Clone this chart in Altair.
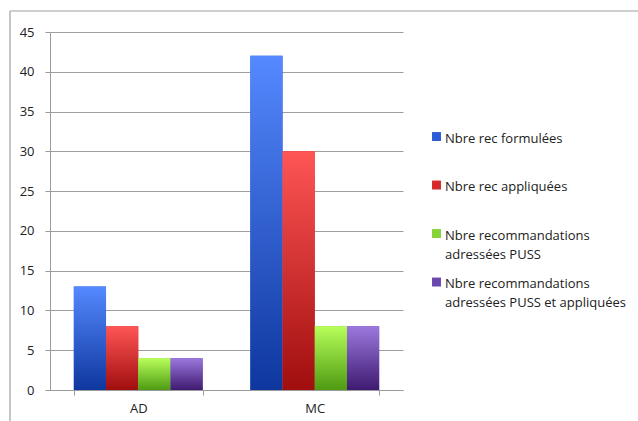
import altair as alt
import pandas as pd

groups = ["AD", "MC"]
series = [
    "Nbre rec formulées|",
    "Nbre rec appliquées|",
    "Nbre recommandations|adressées PUSS",
    "Nbre recommandations|adressées PUSS et appliquées",
]
values_ad = [13, 8, 4, 4]
values_mc = [42, 30, 8, 8]
y_ticks = [0, 5, 10, 15, 20, 25, 30, 35, 40, 45]

solid = ["#2E5BD6", "#D62A2A", "#86D43A", "#6A47AE"]
grads = [
    ("#5589FF", "#0E379E"),
    ("#FF5555", "#A00E0E"),
    ("#B8FF5A", "#4E9A12"),
    ("#9C78DE", "#3E1A70"),
]

rows = []
for i, s in enumerate(series):
    rows.append({"groupe": "AD", "serie": s, "order": i, "valeur": values_ad[i]})
    rows.append({"groupe": "MC", "serie": s, "order": i, "valeur": values_mc[i]})
df = pd.DataFrame(rows)

FONT = "Open Sans"

x_enc = alt.X(
    "groupe:N",
    sort=groups,
    title=None,
    scale=alt.Scale(paddingInner=0.27, paddingOuter=0.135),
    axis=alt.Axis(
        labelAngle=0, tickBand="extent", domainColor="#9a9a9a", tickColor="#9a9a9a",
        tickSize=5, labelPadding=7, labelFontSize=13, labelColor="#222222", labelFont=FONT,
        grid=False,
    ),
)
xoff = alt.XOffset("serie:N", sort=series, scale=alt.Scale(paddingInner=0, paddingOuter=0))
y_enc = alt.Y(
    "valeur:Q",
    title=None,
    scale=alt.Scale(domain=[0, 45], nice=False),
    axis=alt.Axis(
        values=y_ticks, grid=True, gridColor="#9e9e9e", gridWidth=1.2,
        domainColor="#9a9a9a", tickColor="#9a9a9a", tickSize=5,
        labelPadding=11, labelFontSize=13, labelColor="#222222", labelFont=FONT,
    ),
)

base = alt.Chart(df).mark_bar().encode(
    x=x_enc,
    xOffset=xoff,
    y=y_enc,
    color=alt.Color(
        "serie:N",
        sort=series,
        scale=alt.Scale(domain=series, range=solid),
        legend=alt.Legend(
            title=None, orient="none", legendX=380, legendY=94,
            symbolType="M-1,-0.1H1V1.9H-1Z", symbolSize=80, symbolStrokeWidth=0,
            labelExpr="split(datum.label, '|')", labelBaseline="top",
            labelFontSize=13, labelFont=FONT, labelColor="#222222",
            labelLimit=300, rowPadding=9.5, labelOffset=2,
        ),
    ),
)

layers = [base]
for i, s in enumerate(series):
    top, bot = grads[i]
    layers.append(
        alt.Chart(df).transform_filter(alt.datum.serie == s).mark_bar(
            fill=alt.Gradient(
                gradient="linear", x1=0, y1=0, x2=0, y2=1,
                stops=[alt.GradientStop(color=top, offset=0), alt.GradientStop(color=bot, offset=1)],
            )
        ).encode(x=x_enc, xOffset=xoff, y=y_enc)
    )

frame_df = pd.DataFrame({"a": [0]})
frame_v = alt.Chart(frame_df).mark_rule(color="#a0a0a0", strokeWidth=1.2).encode(
    x=alt.value(-40), y=alt.value(-21), y2=alt.value(400)
)
frame_h = alt.Chart(frame_df).mark_rule(color="#a0a0a0", strokeWidth=1.2).encode(
    x=alt.value(-40), x2=alt.value(600), y=alt.value(-21)
)

chart = alt.layer(*layers, frame_v, frame_h).properties(
    width=353, height=358,
    autosize=alt.AutoSizeParams(type="none"),
    padding={"left": 50, "top": 32, "right": 235, "bottom": 31},
    background="white",
).configure(style={"guide-label": {"lineHeight": 19}}).configure_view(stroke=None)

chart.save("out.html", embed_options={"renderer": "svg", "actions": False})
